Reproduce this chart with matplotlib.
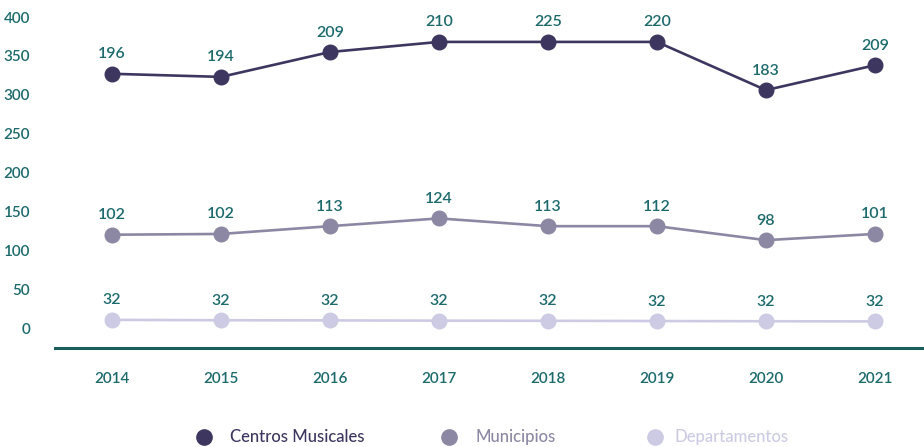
import matplotlib
matplotlib.use("Agg")
import matplotlib.pyplot as plt
from matplotlib.lines import Line2D

years = [2014, 2015, 2016, 2017, 2018, 2019, 2020, 2021]
series_names = ["Centros Musicales", "Municipios", "Departamentos"]
# plotted positions (as drawn in the reference)
centros_pos = [327, 323, 355, 368, 368, 368, 306, 338]
municipios_pos = [120, 121, 131, 141, 131, 131, 113, 121]
departamentos_pos = [10.5, 10, 9.8, 9.5, 9.3, 9, 8.7, 8.5]
# labels shown
centros_lab = [196, 194, 209, 210, 225, 220, 183, 209]
municipios_lab = [102, 102, 113, 124, 113, 112, 98, 101]
departamentos_lab = [32, 32, 32, 32, 32, 32, 32, 32]
yticks = [0, 50, 100, 150, 200, 250, 300, 350, 400]

colors = ["#3d3760", "#8c88a3", "#cdcbe4"]
teal = "#1d6a6c"

plt.rcParams['font.family'] = ['Lato', 'DejaVu Sans']

fig = plt.figure(figsize=(9.24, 4.47), dpi=100)
ax = fig.add_axes([55/924, 99/447, 869/924, 348/447])
ax.set_xlim(2013.477, 2021.45)
ax.set_ylim(-25.7, 421.9)

data = [(centros_pos, centros_lab), (municipios_pos, municipios_lab), (departamentos_pos, departamentos_lab)]
for (pos, lab), c in zip(data, colors):
    ax.plot(years, pos, color=c, lw=1.9, marker='o', ms=10.5, zorder=3, solid_capstyle='round')
    for x, y, t in zip(years, pos, lab):
        ax.annotate(str(t), (x, y), xytext=(0, 9), textcoords='offset points',
                    ha='center', va='bottom', color=teal, fontsize=11.5, fontweight='semibold')

for s in ['left', 'right', 'top']:
    ax.spines[s].set_visible(False)
ax.spines['bottom'].set_color("#1a5e5c")
ax.spines['bottom'].set_linewidth(2.2)
ax.spines['bottom'].set_position(('data', -25.7))
ax.set_xticks(years)
ax.set_xticklabels([str(y) for y in years])
ax.set_yticks(yticks)
ax.tick_params(axis='both', length=0, colors=teal, labelsize=11)
ax.tick_params(axis='x', pad=17)
ax.tick_params(axis='y', pad=18)
for lbl in ax.get_xticklabels() + ax.get_yticklabels():
    lbl.set_color(teal)
    lbl.set_fontweight('semibold')

# manual legend
marker_x = [204, 449, 655]
text_x = [230, 475, 675]
ly = 1 - 437/447
for mx, tx, name, c in zip(marker_x, text_x, series_names, colors):
    fig.add_artist(Line2D([mx/924], [ly], transform=fig.transFigure, marker='o', ms=11,
                          color=c, ls='none'))
    fig.text(tx/924, ly, name, color=c, fontsize=12, fontweight='medium', ha='left', va='center')

fig.savefig("out.png", dpi=100)
